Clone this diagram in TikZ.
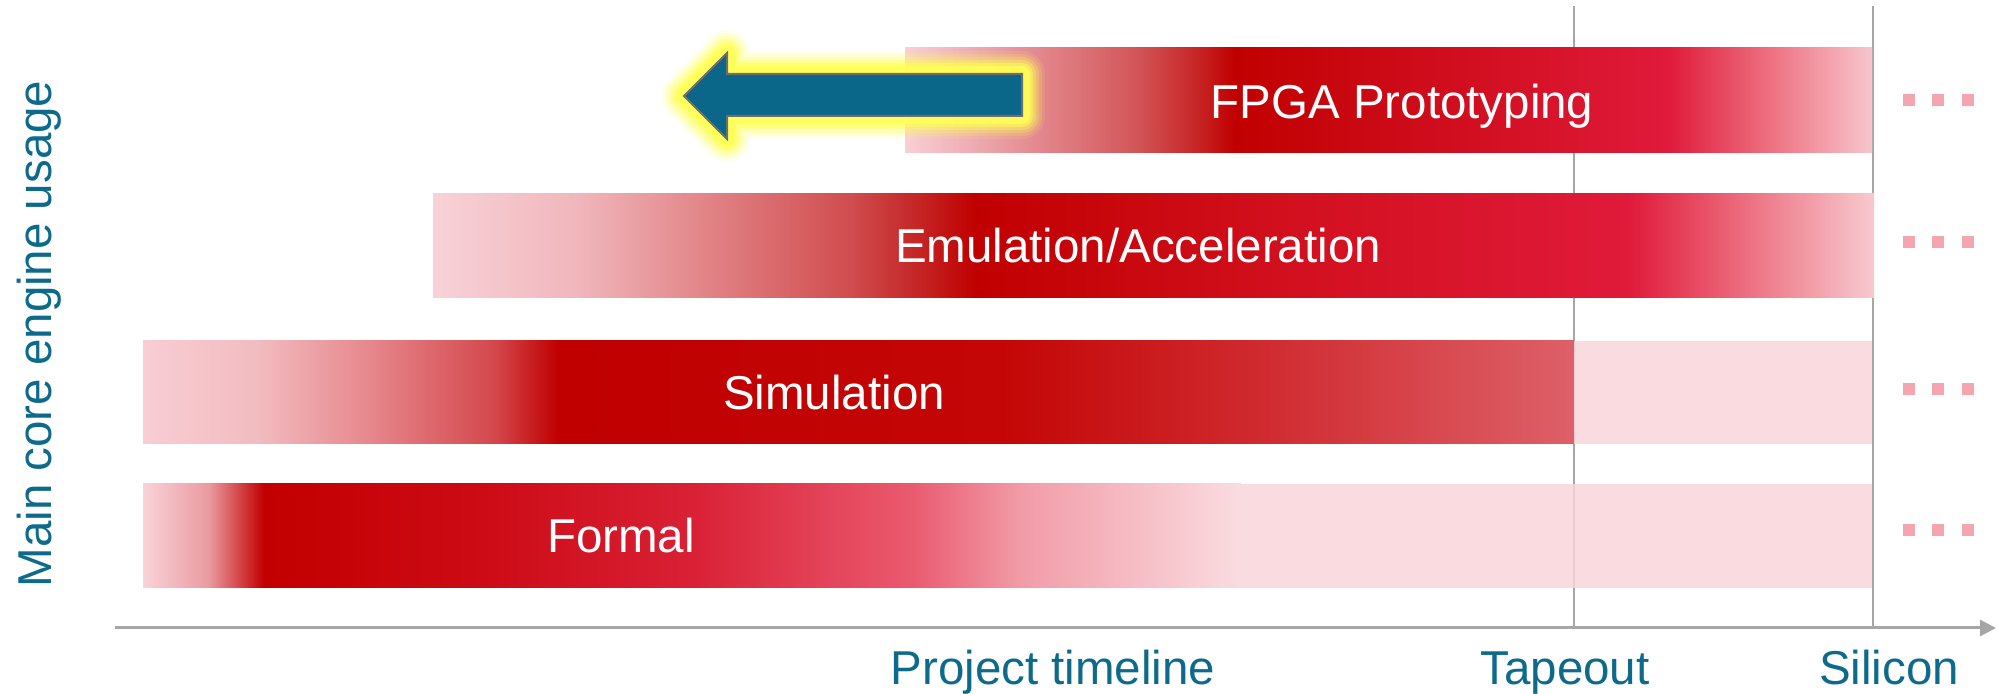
\documentclass[tikz,border=0pt]{standalone}
\usepackage{fontspec}
\setmainfont{Liberation Sans}
\usetikzlibrary{arrows.meta}

% palette
\definecolor{axisblue}{HTML}{0E6A8B}
\definecolor{arrowblue}{HTML}{0A678A}
\definecolor{arrowedge}{HTML}{6E6E6E}
\definecolor{glowyellow}{HTML}{FFFF55}
\definecolor{gridgray}{HTML}{A6A6A6}
\definecolor{palepink}{HTML}{F9D6DA}
\definecolor{dotpink}{HTML}{F4A6B0}

% horizontal colour ramps; the bar spans 25bp..75bp of each ramp
\pgfdeclarehorizontalshading{fpgashade}{100bp}{%
  color(0bp)=(rgb,255:red,248;green,208;blue,214);
  color(25bp)=(rgb,255:red,248;green,208;blue,214);
  color(31.5bp)=(rgb,255:red,228;green,140;blue,146);
  color(37bp)=(rgb,255:red,210;green,85;blue,88);
  color(40.5bp)=(rgb,255:red,198;green,30;blue,30);
  color(42bp)=(rgb,255:red,192;green,0;blue,0);
  color(50bp)=(rgb,255:red,204;green,10;blue,22);
  color(64.5bp)=(rgb,255:red,224;green,26;blue,58);
  color(70bp)=(rgb,255:red,238;green,117;blue,133);
  color(75bp)=(rgb,255:red,247;green,198;blue,205);
  color(100bp)=(rgb,255:red,247;green,198;blue,205)}

\pgfdeclarehorizontalshading{emushade}{100bp}{%
  color(0bp)=(rgb,255:red,248;green,210;blue,216);
  color(25bp)=(rgb,255:red,248;green,210;blue,216);
  color(30bp)=(rgb,255:red,240;green,183;blue,188);
  color(35bp)=(rgb,255:red,224;green,126;blue,129);
  color(39.5bp)=(rgb,255:red,208;green,76;blue,78);
  color(42bp)=(rgb,255:red,196;green,34;blue,34);
  color(43.8bp)=(rgb,255:red,192;green,0;blue,0);
  color(55bp)=(rgb,255:red,211;green,16;blue,31);
  color(66.5bp)=(rgb,255:red,224;green,26;blue,58);
  color(71bp)=(rgb,255:red,238;green,120;blue,136);
  color(75bp)=(rgb,255:red,247;green,202;blue,208);
  color(100bp)=(rgb,255:red,247;green,202;blue,208)}

\pgfdeclarehorizontalshading{simshade}{100bp}{%
  color(0bp)=(rgb,255:red,248;green,205;blue,212);
  color(25bp)=(rgb,255:red,248;green,205;blue,212);
  color(29bp)=(rgb,255:red,242;green,188;blue,192);
  color(33bp)=(rgb,255:red,230;green,134;blue,139);
  color(37.3bp)=(rgb,255:red,211;green,71;blue,76);
  color(39.5bp)=(rgb,255:red,192;green,0;blue,0);
  color(55bp)=(rgb,255:red,196;green,6;blue,6);
  color(64bp)=(rgb,255:red,207;green,42;blue,47);
  color(75bp)=(rgb,255:red,222;green,96;blue,104);
  color(100bp)=(rgb,255:red,222;green,96;blue,104)}

\pgfdeclarehorizontalshading{formshade}{100bp}{%
  color(0bp)=(rgb,255:red,249;green,211;blue,217);
  color(25bp)=(rgb,255:red,249;green,211;blue,217);
  color(28bp)=(rgb,255:red,233;green,154;blue,160);
  color(30.5bp)=(rgb,255:red,194;green,0;blue,0);
  color(40bp)=(rgb,255:red,204;green,10;blue,20);
  color(50bp)=(rgb,255:red,217;green,32;blue,53);
  color(60bp)=(rgb,255:red,234;green,90;blue,111);
  color(65bp)=(rgb,255:red,241;green,156;blue,168);
  color(75bp)=(rgb,255:red,250;green,220;blue,224);
  color(100bp)=(rgb,255:red,250;green,220;blue,224)}

\tikzset{
  labeltext/.style={text=axisblue, font=\fontsize{23.75}{28}\selectfont, inner sep=0pt, anchor=base},
  bartext/.style={text=white, font=\fontsize{23.75}{28}\selectfont, inner sep=0pt, anchor=base},
  milestone/.style={draw=gridgray, line width=0.7pt},
  timeaxis/.style={draw=gridgray, line width=1.5pt, -{Triangle[length=8pt,width=8pt]}},
  fadebox/.style={fill=palepink, opacity=0.85},
  moredot/.style={fill=dotpink},
  glow/.style={draw=glowyellow, line join=round},
  bigarrow/.style={fill=arrowblue, draw=arrowedge, line width=1pt, line join=miter}
}

\begin{document}
\begin{tikzpicture}[x=0.5pt,y=-0.5pt]
\useasboundingbox (0,0) rectangle (1997,694);

% milestone guides
\coordinate (tapeTop) at (1574,6);
\coordinate (tapeBot) at (1574,628);
\coordinate (siliTop) at (1873,6);
\coordinate (siliBot) at (1873,628);
\draw[milestone] (tapeTop) -- (tapeBot);
\draw[milestone] (siliTop) -- (siliBot);

% engine bars
\shade[shading=fpgashade] (905,48) rectangle (1872,153);
\shade[shading=emushade] (433,194) rectangle (1874,298);
\shade[shading=simshade] (143,341) rectangle (1574,444);
\fill[fadebox] (1574,341) rectangle (1872,444);
\fill[fadebox] (1240,484) rectangle (1872,588);
\shade[shading=formshade] (143,484) rectangle (1241,588);

% bar labels
\node[bartext] (fpga) at (1402,119) {FPGA Prototyping};
\node[bartext] (emu) at (1138,263) {Emulation/Acceleration};
\node[bartext] (sim) at (834,410) {Simulation};
\node[bartext] (formal) at (621,553) {Formal};

% continuation marks
\foreach \yc in {100,242,389,530}{
  \foreach \xc in {1909,1938,1968}{
    \fill[moredot] (\xc-6,\yc-6) rectangle (\xc+6,\yc+6);
  }
}

% shift-left arrow with soft glow
\foreach \w/\o in {46/0.10,40/0.15,34/0.22,28/0.32,22/0.5,16/0.8}{
  \draw[glow, line width=\w*0.5pt, opacity=\o]
    (684,96) -- (727,53) -- (727,74) -- (1022,74) -- (1022,116)
    -- (727,116) -- (727,139) -- cycle;
}
\draw[bigarrow] (684,96) -- (727,53) -- (727,74) -- (1022,74) -- (1022,116)
  -- (727,116) -- (727,139) -- cycle;

% time axis
\coordinate (axL) at (115,628);
\coordinate (axR) at (1996,628);
\draw[timeaxis] (axL) -- (axR);

\node[labeltext] (timeline) at (1053,684) {Project timeline};
\node[labeltext] (tapeout) at (1565,684) {Tapeout};
\node[labeltext] (silicon) at (1889,684) {Silicon};

\node[labeltext, rotate=90] (usage) at (51,334) {Main core engine usage};
\end{tikzpicture}
\end{document}
